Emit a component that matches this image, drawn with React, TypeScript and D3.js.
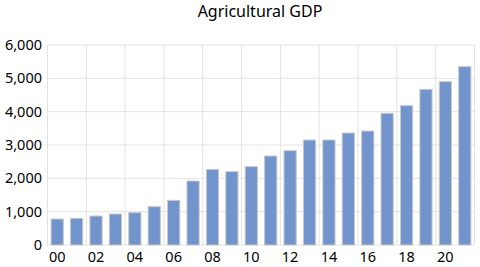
import * as d3 from "d3";
import { useEffect, useRef } from "react";

const years = ["00", "01", "02", "03", "04", "05", "06", "07", "08", "09", "10",
  "11", "12", "13", "14", "15", "16", "17", "18", "19", "20", "21"];
const gdp = [780, 800, 870, 930, 970, 1150, 1340, 1920, 2270, 2200, 2350,
  2670, 2830, 3150, 3150, 3360, 3420, 3950, 4180, 4670, 4900, 5350];
const yTicks = [0, 1000, 2000, 3000, 4000, 5000, 6000];

const App = () => {
  const ref = useRef<SVGSVGElement>(null);

  useEffect(() => {
    const left = 47.5, right = 474.5, top = 45, bottom = 245;

    const svg = d3.select(ref.current);
    svg.selectAll("*").remove();

    const font = "'Noto Sans', sans-serif";

    var x = d3.scaleBand().domain(years).range([left, right]).paddingInner(0.37).paddingOuter(0.185);
    var y = d3.scaleLinear().domain([0, 6000]).range([bottom, top]);

    const step = x.step();

    // horizontal gridlines
    svg.append("g")
      .selectAll("line")
      .data(yTicks)
      .join("line")
      .attr("x1", left)
      .attr("x2", right)
      .attr("y1", d => y(d))
      .attr("y2", d => y(d))
      .attr("stroke", "#e3e3e3")
      .attr("stroke-width", 1);

    // vertical gridlines every 2 categories
    const vlines = d3.range(0, years.length + 1, 2);
    svg.append("g")
      .selectAll("line")
      .data(vlines)
      .join("line")
      .attr("x1", i => left + i * step)
      .attr("x2", i => left + i * step)
      .attr("y1", top)
      .attr("y2", bottom)
      .attr("stroke", "#e3e3e3")
      .attr("stroke-width", 1);

    // bars
    svg.append("g")
      .selectAll("rect")
      .data(gdp)
      .join("rect")
      .attr("x", (d, i) => x(years[i])!)
      .attr("y", d => y(d))
      .attr("width", x.bandwidth())
      .attr("height", d => bottom - y(d))
      .attr("fill", "#7294cc")
      .attr("stroke", "#c9c9c9")
      .attr("stroke-width", 1);

    // y labels
    svg.append("g")
      .selectAll("text")
      .data(yTicks)
      .join("text")
      .attr("x", 42)
      .attr("y", d => y(d) + 5)
      .attr("text-anchor", "end")
      .attr("font-family", font)
      .attr("font-size", 14.5)
      .attr("fill", "#000")
      .text(d => d3.format(",")(d));

    // x labels
    svg.append("g")
      .selectAll("text")
      .data(years.filter((d, i) => i % 2 === 0))
      .join("text")
      .attr("x", d => x(d)! + x.bandwidth() / 2)
      .attr("y", 262)
      .attr("text-anchor", "middle")
      .attr("font-family", font)
      .attr("font-size", 14.5)
      .attr("fill", "#000")
      .text(d => d);

    svg.append("text")
      .attr("x", 260)
      .attr("y", 17)
      .attr("text-anchor", "middle")
      .attr("font-family", font)
      .attr("font-size", 16)
      .attr("fill", "#000")
      .text("Agricultural GDP");
  }, []);

  return <svg ref={ref} width={480} height={267} style={{ position: "absolute", left: 0, top: 0, background: "#fff" }} />;
};

export default App;
